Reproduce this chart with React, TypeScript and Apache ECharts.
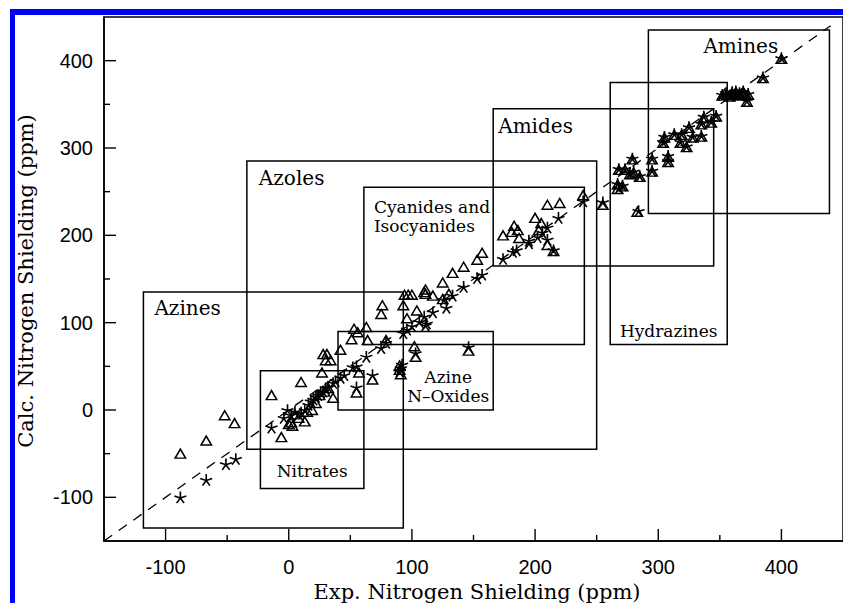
import React, { useEffect, useRef } from "react";
import * as echarts from "echarts";

// Axis ranges and ticks
const axisMin = -150;
const axisMax = 450;
const xTickLabels = [-100, 0, 100, 200, 300, 400];
const yTickLabels = [-100, 0, 100, 200, 300, 400];
const minorTickValues = [-50, 50, 150, 250, 350];

// Reference line y = x
const diagonal = [
  [-150, -150],
  [440, 440],
];

// Compound class boxes (exp/calc ranges, ppm)
const boxLabels = [
  "Azines",
  "Azoles",
  "Nitrates",
  "Azine\nN–Oxides",
  "Cyanides and\nIsocyanides",
  "Amides",
  "Hydrazines",
  "Amines",
];
const boxExpMin = [-118, -34, -23, 40, 61, 166, 261, 292];
const boxExpMax = [93, 250, 61, 166, 240, 345, 356, 439];
const boxCalcMin = [-135, -45, -90, 0, 75, 165, 75, 225];
const boxCalcMax = [135, 285, 45, 90, 255, 345, 375, 435];

// Calculated shielding, method A (open triangles): [exp, calc]
const trianglesLow = [
  [-88, -50], [-67, -35], [-52, -6], [-44, -15], [-14, 17], [-6, -31],
  [0, -16], [2, -14], [3, -18], [13, -13], [15, -2], [19, 0], [22, 8], [25, 17],
  [29, 21], [32, 25], [10, 32], [27, 43], [36, 14], [5, -5], [8, -9],
  [42, 69], [28, 64], [31, 64], [30, 57], [34, 57], [53, 93], [56, 89], [51, 81],
  [63, 95], [64, 80], [76, 120], [75, 110], [93, 120], [94, 132], [97, 132],
  [100, 132], [96, 105], [57, 43], [68, 35], [55, 20], [90, 46], [90, 51], [91, 41],
  [79, 80],
];
const trianglesMid = [
  [102, 73], [103, 61], [110, 135], [104, 114], [111, 138], [111, 133], [117, 131],
  [130, 133], [125, 127], [125, 146], [133, 157], [142, 164], [157, 180], [153, 172],
  [146, 68],
  [239, 246], [255, 235], [210, 235], [220, 237], [200, 220], [183, 211], [186, 206],
  [181, 204], [174, 200], [187, 197], [205, 214], [203, 206], [210, 189], [215, 182],
];
const trianglesHigh = [
  [283, 227], [267, 258], [271, 256], [267, 253], [268, 275], [273, 275], [277, 270],
  [280, 272], [285, 267], [279, 287], [295, 287], [295, 273], [308, 290], [308, 284],
  [304, 306], [305, 312], [313, 315], [319, 315], [325, 323], [328, 312], [335, 313],
  [323, 301], [318, 306], [335, 327], [343, 329], [337, 335], [347, 336],
  [352, 360], [354, 362], [356, 361], [358, 359], [360, 363], [362, 361], [363, 364],
  [366, 362], [367, 360], [369, 364], [370, 362], [373, 361], [372, 353], [385, 380],
  [400, 402],
];

// Calculated shielding, method B (asterisks): [exp, calc]
const starsLow = [
  [-88, -100], [-67, -80], [-51, -62], [-43, -56], [-14, -20], [-4, -9], [-1, 0],
  [2, -6], [5, -2], [10, -3], [13, 0], [16, 6], [18, 10], [20, 12], [22, 15],
  [24, 17], [26, 20], [28, 21], [30, 25], [32, 26], [36, 31], [38, 33], [42, 37],
  [45, 40], [52, 49], [55, 50], [63, 61], [68, 40], [55, 26], [75, 71], [79, 77],
  [90, 44], [91, 48], [92, 52], [93, 88], [96, 92],
];
const starsMid = [
  [100, 96], [103, 65], [106, 101], [110, 107], [111, 97], [112, 99], [117, 112],
  [126, 126], [128, 117], [133, 131], [142, 141], [153, 151], [157, 155], [146, 72],
  [174, 173], [182, 181], [185, 183], [195, 191], [195, 194], [202, 198], [206, 203],
  [210, 209], [219, 220], [210, 195], [215, 183], [239, 239], [255, 238],
];
const starsHigh = [
  [284, 228], [267, 259], [271, 257], [268, 254], [268, 276], [273, 276], [277, 271],
  [280, 273], [285, 268], [279, 288], [295, 288], [295, 274], [308, 291], [308, 285],
  [304, 307], [305, 313], [313, 316], [319, 316], [325, 324], [328, 313], [335, 314],
  [323, 302], [318, 307], [335, 328], [343, 330], [337, 336], [347, 337],
  [352, 361], [355, 363], [358, 360], [360, 364], [363, 365], [366, 363], [369, 365],
  [373, 362], [372, 354], [385, 381], [400, 403],
];

// Label placement styles (pixels relative to box anchor)
const boxLabelLayout = [
  { anchor: "tl", dx: 11, dy: 16, size: 20, align: "left" },
  { anchor: "tl", dx: 12, dy: 17, size: 20, align: "left" },
  { anchor: "bc", dx: 0, dy: -18, size: 17, align: "center" },
  { anchor: "br", dx: -45, dy: -24, size: 17, align: "center" },
  { anchor: "tl", dx: 10, dy: 29, size: 17, align: "left" },
  { anchor: "tl", dx: 5, dy: 17, size: 20, align: "left" },
  { anchor: "bc", dx: 0, dy: -14, size: 17, align: "center" },
  { anchor: "tl", dx: 55, dy: 16, size: 20, align: "left" },
];

const starPath =
  "path://M0 0L0 -10M0 0L9.51 -3.09M0 0L5.88 8.09M0 0L-5.88 8.09M0 0L-9.51 -3.09";

export default function App() {
  const ref = useRef<HTMLDivElement>(null);

  useEffect(() => {
    document.body.style.margin = "0";
    if (!ref.current) return;
    const chart = echarts.init(ref.current, null, { renderer: "svg" });

    const boxData = boxLabels.map((_, i) => [
      boxExpMin[i],
      boxCalcMin[i],
      boxExpMax[i],
      boxCalcMax[i],
    ]);

    // tick records: [value, axis (0 = x, 1 = y), major (1) / minor (0)]
    const tickData: number[][] = [];
    xTickLabels.forEach((v) => tickData.push([v, 0, 1]));
    minorTickValues.forEach((v) => tickData.push([v, 0, 0]));
    yTickLabels.forEach((v) => tickData.push([v, 1, 1]));
    minorTickValues.forEach((v) => tickData.push([v, 1, 0]));

    const labelFont = { color: "#000", fontSize: 20, fontFamily: "Liberation Sans" };

    chart.setOption({
      animation: false,
      backgroundColor: "#fff",
      grid: {
        left: 104,
        top: 17,
        width: 747,
        height: 524,
        show: true,
        borderColor: "#000",
        borderWidth: 1.5,
        backgroundColor: "transparent",
      },
      xAxis: {
        type: "value",
        min: axisMin,
        max: axisMax,
        position: "bottom",
        axisLine: { show: true, onZero: false, lineStyle: { color: "#000", width: 1.5 } },
        axisTick: { show: false },
        axisLabel: { show: true, customValues: xTickLabels, margin: 16, ...labelFont },
        splitLine: { show: false },
      },
      yAxis: {
        type: "value",
        min: axisMin,
        max: axisMax,
        position: "left",
        axisLine: { show: true, onZero: false, lineStyle: { color: "#000", width: 1.5 } },
        axisTick: { show: false },
        axisLabel: { show: true, customValues: yTickLabels, margin: 11, ...labelFont },
        splitLine: { show: false },
      },
      graphic: [
        { type: "rect", shape: { x: 10, y: 9, width: 833, height: 6 }, style: { fill: "#0000ff" }, z: 100 },
        { type: "rect", shape: { x: 10, y: 9, width: 5, height: 594 }, style: { fill: "#0000ff" }, z: 100 },
        {
          type: "text",
          x: 477,
          y: 592,
          style: {
            text: "Exp. Nitrogen Shielding (ppm)",
            fill: "#000",
            fontSize: 21,
            fontFamily: "DejaVu Serif",
            align: "center",
            verticalAlign: "middle",
          },
        },
        {
          type: "text",
          x: 26,
          y: 281,
          rotation: Math.PI / 2,
          style: {
            text: "Calc. Nitrogen Shielding (ppm)",
            fill: "#000",
            fontSize: 21,
            fontFamily: "DejaVu Serif",
            align: "center",
            verticalAlign: "middle",
          },
        },
      ],
      series: [
        {
          type: "custom",
          z: 1,
          silent: true,
          encode: { x: [0, 2], y: [1, 3] },
          data: boxData,
          renderItem: (params: any, api: any) => {
            const i = params.dataIndex;
            const tl = api.coord([api.value(0), api.value(3)]);
            const br = api.coord([api.value(2), api.value(1)]);
            const L = boxLabelLayout[i];
            let tx = tl[0] + L.dx;
            let ty = tl[1] + L.dy;
            if (L.anchor === "bc") {
              tx = (tl[0] + br[0]) / 2 + L.dx;
              ty = br[1] + L.dy;
            } else if (L.anchor === "br") {
              tx = br[0] + L.dx;
              ty = br[1] + L.dy;
            }
            return {
              type: "group",
              children: [
                {
                  type: "rect",
                  shape: { x: tl[0], y: tl[1], width: br[0] - tl[0], height: br[1] - tl[1] },
                  style: { fill: "none", stroke: "#000", lineWidth: 1.5 },
                },
                {
                  type: "text",
                  x: tx,
                  y: ty,
                  style: {
                    text: boxLabels[i],
                    fill: "#000",
                    fontSize: L.size,
                    fontFamily: "DejaVu Serif",
                    align: L.align,
                    verticalAlign: "middle",
                    lineHeight: 19,
                  },
                },
              ],
            };
          },
        },
        {
          type: "custom",
          z: 5,
          silent: true,
          clip: false,
          encode: { x: 0 },
          data: tickData,
          renderItem: (params: any, api: any) => {
            const v = api.value(0);
            const isY = api.value(1) === 1;
            const len = api.value(2) === 1 ? 12 : 6;
            if (!isY) {
              const p = api.coord([v, axisMin]);
              return {
                type: "line",
                shape: { x1: p[0], y1: p[1], x2: p[0], y2: p[1] - len },
                style: { stroke: "#000", lineWidth: 1.4 },
              };
            }
            const p = api.coord([axisMin, v]);
            return {
              type: "line",
              shape: { x1: p[0], y1: p[1], x2: p[0] + len, y2: p[1] },
              style: { stroke: "#000", lineWidth: 1.4 },
            };
          },
        },
        {
          type: "line",
          data: diagonal,
          symbol: "none",
          silent: true,
          z: 2,
          lineStyle: { color: "#000", width: 1.3, type: [10, 8] },
        },
        {
          type: "scatter",
          z: 3,
          silent: true,
          symbol: "triangle",
          symbolSize: [10.5, 9],
          data: [...trianglesLow, ...trianglesMid, ...trianglesHigh],
          itemStyle: { color: "transparent", borderColor: "#000", borderWidth: 1.5, opacity: 1 },
        },
        {
          type: "scatter",
          z: 4,
          silent: true,
          symbol: starPath,
          symbolSize: [12, 11.5],
          data: [...starsLow, ...starsMid, ...starsHigh],
          itemStyle: { color: "transparent", borderColor: "#000", borderWidth: 1.6, opacity: 1 },
        },
      ],
    });

    return () => {
      chart.dispose();
    };
  }, []);

  return <div ref={ref} style={{ width: 843, height: 603 }} />;
}
